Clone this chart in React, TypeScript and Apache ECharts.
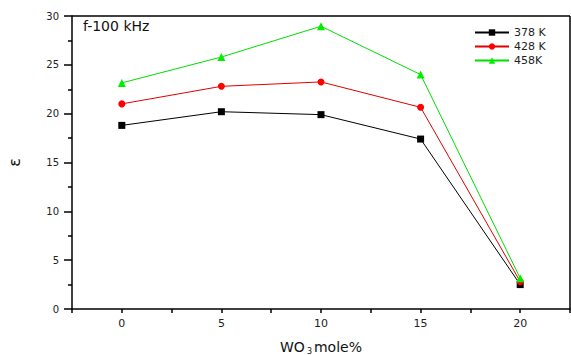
import React, { useEffect, useRef } from "react";
import * as echarts from "echarts";

const xValues = [0, 5, 10, 15, 20];
const s378 = [18.8, 20.2, 19.9, 17.4, 2.5];
const s428 = [21.0, 22.8, 23.25, 20.65, 2.8];
const s458 = [23.15, 25.8, 28.95, 24.0, 3.15];
const seriesNames = ["378 K", "428 K", "458K"];
const annotation = "f-100 kHz";

export default function App() {
  const ref = useRef<HTMLDivElement>(null);
  useEffect(() => {
    document.body.style.margin = "0";
    const chart = echarts.init(ref.current!, null, { renderer: "svg" });
    const pair = (ys: number[]) => xValues.map((x, i) => [x, ys[i]]);
    const font = "DejaVu Sans";
    chart.setOption({
      animation: false,
      backgroundColor: "#fff",
      grid: { left: 72, right: 1, top: 16, bottom: 46, outerBoundsMode: "none", containLabel: false },
      title: {
        text: annotation,
        left: 83,
        top: 19,
        padding: 0,
        textStyle: { fontFamily: font, fontSize: 14, fontWeight: "normal", color: "#111" },
      },
      legend: {
        orient: "vertical",
        left: 474,
        top: 27,
        padding: 0,
        itemWidth: 34,
        itemHeight: 8,
        itemGap: 3,
        data: seriesNames,
        textStyle: { fontFamily: font, fontSize: 11, color: "#222" },
      },
      xAxis: {
        type: "value",
        min: -2.5,
        max: 22.5,
        interval: 2.5,
        name: "WO{sub|3}mole%",
        nameLocation: "middle",
        nameGap: 30,
        nameTextStyle: {
          fontFamily: font,
          fontSize: 14,
          lineHeight: 16,
          color: "#111",
          rich: { sub: { fontFamily: font, fontSize: 8, lineHeight: 10, verticalAlign: "bottom", padding: [4, 2, 0, 2] } },
        },
        axisLine: { show: true, onZero: false, lineStyle: { color: "#000", width: 1.5 } },
        axisTick: { show: true, length: 4, lineStyle: { color: "#000", width: 1.5 } },
        axisLabel: {
          fontFamily: font,
          fontSize: 11,
          color: "#222",
          margin: 9,
          formatter: (v: number) => (v % 5 === 0 && v >= 0 && v <= 20 ? String(v) : ""),
        },
        splitLine: { show: false },
      },
      yAxis: {
        type: "value",
        min: 0,
        max: 30,
        interval: 5,
        name: "ε",
        nameLocation: "middle",
        nameGap: 50,
        nameRotate: 90,
        nameTextStyle: { fontFamily: font, fontSize: 16, color: "#111" },
        axisLine: { show: true, onZero: false, lineStyle: { color: "#000", width: 1.5 } },
        axisTick: { show: true, length: 8, lineStyle: { color: "#000", width: 1.5 } },
        minorTick: { show: true, splitNumber: 2, length: 4, lineStyle: { color: "#000", width: 1.5 } },
        axisLabel: { fontFamily: font, fontSize: 10, color: "#222", margin: 13 },
        splitLine: { show: false },
      },
      graphic: [
        {
          type: "line",
          shape: { x1: 72, y1: 16, x2: 570, y2: 16 },
          style: { stroke: "#000", lineWidth: 1.5 },
        },
        {
          type: "line",
          shape: { x1: 570, y1: 16, x2: 570, y2: 309 },
          style: { stroke: "#000", lineWidth: 1.5 },
        },
      ],
      series: [
        {
          name: seriesNames[0],
          type: "line",
          data: pair(s378),
          symbol: "rect",
          symbolSize: 7,
          itemStyle: { color: "#000" },
          lineStyle: { color: "#000", width: 1 },
        },
        {
          name: seriesNames[1],
          type: "line",
          data: pair(s428),
          symbol: "circle",
          symbolSize: 7,
          itemStyle: { color: "#ff0000" },
          lineStyle: { color: "#e00000", width: 1 },
        },
        {
          name: seriesNames[2],
          type: "line",
          data: pair(s458),
          symbol: "triangle",
          symbolSize: 8,
          itemStyle: { color: "#00ee00" },
          lineStyle: { color: "#00dd00", width: 1 },
        },
      ],
    });
    return () => chart.dispose();
  }, []);
  return <div ref={ref} style={{ width: 571, height: 355, position: "absolute", left: 0, top: 0 }} />;
}
